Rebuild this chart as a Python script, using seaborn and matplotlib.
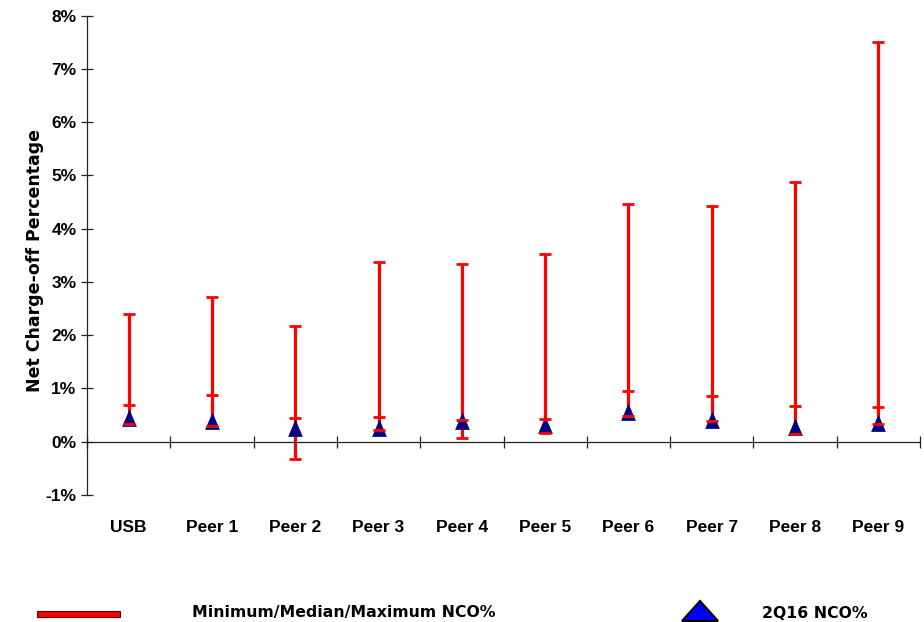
import matplotlib
matplotlib.use("Agg")
import matplotlib.pyplot as plt
import matplotlib.transforms as mtransforms
from matplotlib.path import Path
from matplotlib.patches import Rectangle, Polygon
from matplotlib.ticker import FuncFormatter
import seaborn as sns
import pandas as pd
import numpy as np

# ---------------- data (values in %) ----------------
categories = ["USB", "Peer 1", "Peer 2", "Peer 3", "Peer 4",
              "Peer 5", "Peer 6", "Peer 7", "Peer 8", "Peer 9"]
nco_max = [2.40, 2.72, 2.18, 3.37, 3.34, 3.53, 4.46, 4.43, 4.87, 7.51]
nco_median = [0.69, 0.87, 0.45, 0.47, 0.40, 0.42, 0.95, 0.85, 0.67, 0.65]
nco_min = [0.33, 0.29, -0.33, 0.22, 0.07, 0.17, 0.49, 0.39, 0.14, 0.33]
nco_2q16 = [0.45, 0.39, 0.25, 0.25, 0.39, 0.31, 0.56, 0.41, 0.27, 0.36]
y_ticks = [-1, 0, 1, 2, 3, 4, 5, 6, 7, 8]
legend_labels = ["Minimum/Median/Maximum NCO%", "2Q16 NCO%"]
y_title = "Net Charge-off Percentage"

# ---------------- style ----------------
sns.set_theme(style="white")
plt.rcParams["font.family"] = ["Liberation Sans", "DejaVu Sans"]
plt.rcParams["font.weight"] = "bold"
plt.rcParams["axes.labelweight"] = "bold"
for k in ["text.color", "axes.labelcolor", "xtick.color", "ytick.color"]:
    plt.rcParams[k] = "black"

W, H = 924, 622
fig = plt.figure(figsize=(W / 100, H / 100), dpi=100)
ax = fig.add_axes([87 / W, 1 - 495 / H, 833 / W, 479.5 / H])

df = pd.DataFrame({
    "category": categories,
    "pos": np.arange(len(categories)),
    "min": nco_min,
    "median": nco_median,
    "max": nco_max,
    "q2": nco_2q16,
})
long = df.melt(id_vars=["category", "pos"], value_vars=["min", "median", "max"],
               var_name="stat", value_name="value")

red = "#FF0000"
navy = "#000080"

# vertical min-max lines
ax.vlines(df["pos"], df["min"], df["max"], color=red, lw=2.3, zorder=2)

# 2Q16 triangles
tri = Path([(-0.85, -1.0), (0.85, -1.0), (0.0, 1.0), (-0.85, -1.0)],
           [Path.MOVETO, Path.LINETO, Path.LINETO, Path.CLOSEPOLY])
sns.scatterplot(data=df, x="pos", y="q2", marker=tri, s=135, color=navy,
                edgecolor=navy, linewidth=0.5, zorder=3, ax=ax, legend=False)

# min / median / max caps
sns.scatterplot(data=long, x="pos", y="value", marker="_", s=80, color=red,
                edgecolor=red, linewidth=2.0, zorder=4, ax=ax, legend=False)

# ---------------- axes ----------------
ax.set_xlim(-0.5, len(categories) - 0.5)
ax.set_ylim(y_ticks[0], y_ticks[-1])
ax.set_xlabel("")
ax.set_ylabel(y_title, fontsize=12.5, fontweight="bold", color="black",
              family=["DejaVu Sans"])
ax.yaxis.set_label_coords(-0.052, 0.49)

for s in ["top", "right"]:
    ax.spines[s].set_visible(False)
for s in ["left", "bottom"]:
    ax.spines[s].set_color("#222222")
    ax.spines[s].set_linewidth(0.9)
ax.spines["bottom"].set_position(("data", 0))

ax.set_xticks(np.arange(-0.5, len(categories)))
ax.set_xticklabels([])
ax.tick_params(axis="x", direction="inout", length=9, width=0.9, color="#222222",
               bottom=True)
ax.set_yticks(y_ticks)
ax.yaxis.set_major_formatter(FuncFormatter(lambda v, p: f"{v:.0f}%"))
ax.tick_params(axis="y", direction="inout", length=8, width=0.9, color="#222222",
               pad=3.6, labelsize=12.5, left=True, labelcolor="black")
for lab in ax.get_yticklabels():
    lab.set_fontweight("bold")

trans = mtransforms.blended_transform_factory(ax.transData, ax.transAxes)
for i, c in enumerate(categories):
    ax.text(i, -0.068, c, transform=trans, ha="center", va="center",
            fontsize=12.5, fontweight="bold", color="black")

# ---------------- legend ----------------
ft = fig.transFigure
fig.add_artist(Rectangle((37 / W, 1 - 616.5 / H), 83 / W, 6 / H, transform=ft,
                         facecolor=red, edgecolor="#500000", lw=0.8))
fig.add_artist(Polygon([(682 / W, 1 - 621 / H), (718 / W, 1 - 621 / H),
                        (700 / W, 1 - 601 / H)], closed=True, transform=ft,
                       facecolor="#0000FF", edgecolor="black", lw=1.5))
fig.text(192 / W, 1 - 613 / H, legend_labels[0], va="center", ha="left",
         fontsize=11.3, fontweight="bold", family=["DejaVu Sans"])
fig.text(762 / W, 1 - 613 / H, legend_labels[1], va="center", ha="left",
         fontsize=11.3, fontweight="bold", family=["DejaVu Sans"])

fig.savefig("out.png", dpi=100)
